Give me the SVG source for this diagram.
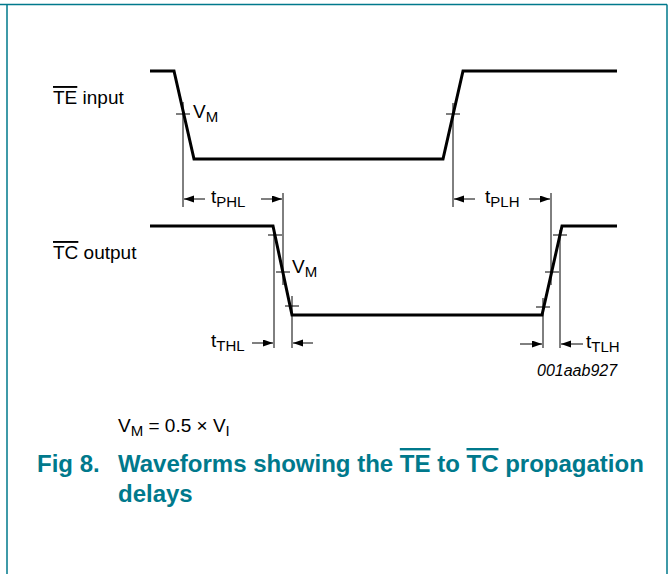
<svg xmlns="http://www.w3.org/2000/svg" width="668" height="574" viewBox="0 0 668 574">
<defs>
<marker id="ah" markerWidth="10" markerHeight="8" refX="10" refY="3.5" orient="auto" markerUnits="userSpaceOnUse">
<path d="M0,0 L10,3.5 L0,7 z" fill="#000"/>
</marker>
<style>
.frame{stroke:#00798C;stroke-width:1.5;fill:none}
.wave{stroke:#000;stroke-width:3;fill:none;stroke-linejoin:miter}
.thin{stroke:#000;stroke-width:1;fill:none}
.arr{stroke:#000;stroke-width:1;fill:none;marker-end:url(#ah)}
.lbl{font-family:"Liberation Sans",Arial,sans-serif;font-size:19px;fill:#000}
.sub{font-size:15px}
.code{font-family:"Liberation Sans",Arial,sans-serif;font-size:16px;font-style:italic;fill:#000}
.title{font-family:"Liberation Sans",Arial,sans-serif;font-size:24px;font-weight:bold;fill:#00798C}
.ov{text-decoration:overline}
</style>
</defs>
<rect width="668" height="574" fill="#fff"/>
<g id="frame">
<path class="frame" d="M0,4.5 H667 M7,4.5 V574 M667,4.5 V574"/>
</g>
<g id="te-input">
<path class="wave" d="M150,71 H174 L194,159 H443 L463,71 H617"/>
<text class="lbl" x="53" y="104"><tspan class="ov">TE</tspan> input</text>
</g>
<g id="tc-output">
<path class="wave" d="M150,226 H273 L292,315 H542 L562,226 H617"/>
<text class="lbl" x="53" y="259"><tspan class="ov">TC</tspan> output</text>
</g>
<g id="connectors">
<line class="thin" x1="183" y1="102" x2="183" y2="207"/>
<line class="thin" x1="176" y1="114" x2="190" y2="114"/>
<line class="thin" x1="453" y1="103" x2="453" y2="207"/>
<line class="thin" x1="446" y1="114" x2="460" y2="114"/>
<line class="arr" x1="205" y1="199" x2="184" y2="199"/>
<line class="arr" x1="261" y1="199" x2="282" y2="199"/>
<line class="thin" x1="283" y1="193" x2="283" y2="285"/>
<line class="arr" x1="475" y1="199" x2="454" y2="199"/>
<line class="arr" x1="529" y1="199" x2="550" y2="199"/>
<line class="thin" x1="551" y1="193" x2="551" y2="285"/>
<line class="thin" x1="268" y1="235" x2="282" y2="235"/>
<line class="thin" x1="276" y1="272" x2="290" y2="272"/>
<line class="thin" x1="285" y1="306" x2="299" y2="306"/>
<line class="thin" x1="536" y1="307" x2="550" y2="307"/>
<line class="thin" x1="545" y1="272" x2="559" y2="272"/>
<line class="thin" x1="553" y1="235" x2="567" y2="235"/>
<line class="thin" x1="274" y1="233" x2="274" y2="348"/>
<line class="thin" x1="292" y1="296" x2="292" y2="348"/>
<line class="arr" x1="252" y1="343" x2="273" y2="343"/>
<line class="arr" x1="313" y1="343" x2="293" y2="343"/>
<line class="thin" x1="543" y1="298" x2="543" y2="348"/>
<line class="thin" x1="560" y1="230" x2="560" y2="348"/>
<line class="arr" x1="520" y1="344" x2="542" y2="344"/>
<line class="arr" x1="583" y1="344" x2="561" y2="344"/>
</g>
<g id="labels">
<text class="lbl" x="193" y="118">V<tspan class="sub" dy="4">M</tspan></text>
<text class="lbl" x="211" y="203">t<tspan class="sub" dy="4">PHL</tspan></text>
<text class="lbl" x="485" y="203">t<tspan class="sub" dy="4">PLH</tspan></text>
<text class="lbl" x="292" y="273">V<tspan class="sub" dy="4">M</tspan></text>
<text class="lbl" x="211" y="347">t<tspan class="sub" dy="4">THL</tspan></text>
<text class="lbl" x="586" y="348">t<tspan class="sub" dy="4">TLH</tspan></text>
<text class="code" x="537" y="376">001aab927</text>
<text class="lbl" x="118" y="432">V<tspan class="sub" dy="4">M</tspan><tspan dy="-4"> = 0.5 × V</tspan><tspan class="sub" dy="4">I</tspan></text>
</g>
<g id="caption">
<text class="title" x="37" y="472">Fig 8.</text>
<text class="title" x="118" y="472">Waveforms showing the <tspan class="ov">TE</tspan> to <tspan class="ov">TC</tspan> propagation</text>
<text class="title" x="118" y="502">delays</text>
</g>
</svg>
